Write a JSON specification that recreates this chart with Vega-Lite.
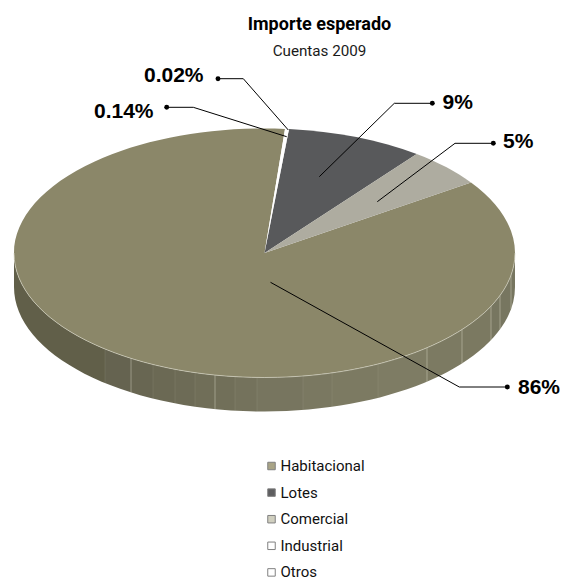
{
"$schema":"https://vega.github.io/schema/vega-lite/v6.json",
"width":567,"height":578,"padding":0,"autosize":{"type":"none"},"background":"white",
"config":{"view":{"stroke":null}},
"title":{"text":"Importe esperado","subtitle":"Cuentas 2009","anchor":"middle","frame":"group","dx":36,"offset":-59,
"font":"Roboto","fontSize":18,"fontWeight":"bold","color":"#000000",
"subtitleFont":"Roboto","subtitleFontSize":15.2,"subtitleColor":"#1a1a1a","subtitlePadding":10},
"datasets":{
"slices":[{"category":"Habitacional","value":86},{"category":"Lotes","value":9},{"category":"Comercial","value":5},{"category":"Industrial","value":0.14},{"category":"Otros","value":0.02}],
"leaders":[
{"label":"0.02%","step":1,"px":218,"py":78.7},{"label":"0.02%","step":2,"px":243.3,"py":78.7},{"label":"0.02%","step":3,"px":288.3,"py":130},
{"label":"0.14%","step":1,"px":166.7,"py":107.3},{"label":"0.14%","step":2,"px":193.3,"py":107.3},{"label":"0.14%","step":3,"px":286.7,"py":136.7},
{"label":"9%","step":1,"px":432.3,"py":103.3},{"label":"9%","step":2,"px":394.3,"py":103.3},{"label":"9%","step":3,"px":319.3,"py":176.7},
{"label":"5%","step":1,"px":493.3,"py":143.3},{"label":"5%","step":2,"px":455,"py":143.3},{"label":"5%","step":3,"px":377.3,"py":201.7},
{"label":"86%","step":1,"px":507.3,"py":387},{"label":"86%","step":2,"px":459.3,"py":387},{"label":"86%","step":3,"px":270.5,"py":282.3}],
"labels":[{"label":"0.02%","lx":144,"ly":76},{"label":"0.14%","lx":94,"ly":111.5},{"label":"9%","lx":442.5,"ly":103},{"label":"5%","lx":503,"ly":142},{"label":"86%","lx":518,"ly":388}]
},
"layer":[
{"data":{"values":[{"part":"wall"}]},
 "mark":{"type":"point","filled":true,"size":4,"strokeWidth":0,"opacity":1,
 "shape":"M -269.5 -36 A 250.5 124.5 0 0 0 -19 88.5 A 250.5 124.5 0 0 0 231.5 -36 L 231.5 -2 A 250.5 124.5 0 0 1 -19 122.5 A 250.5 124.5 0 0 1 -269.5 -2 Z",
 "fill":{"gradient":"linear","x1":0,"y1":0,"x2":1,"y2":0,"stops":[
 {"offset":0,"color":"#615f49"},{"offset":0.1816,"color":"#615f49"},{"offset":0.1816,"color":"#656350"},{"offset":0.2335,"color":"#656350"},{"offset":0.2335,"color":"#686652"},{"offset":0.2774,"color":"#686652"},{"offset":0.2774,"color":"#6b6954"},{"offset":0.3214,"color":"#6b6954"},{"offset":0.3214,"color":"#6d6b56"},{"offset":0.3613,"color":"#6d6b56"},{"offset":0.3613,"color":"#706e58"},{"offset":0.4012,"color":"#706e58"},{"offset":0.4012,"color":"#716f59"},{"offset":0.4411,"color":"#716f59"},{"offset":0.4411,"color":"#74725c"},{"offset":0.485,"color":"#74725c"},{"offset":0.485,"color":"#77755f"},{"offset":0.5768,"color":"#77755f"},{"offset":0.5768,"color":"#7a7861"},{"offset":0.6347,"color":"#7a7861"},{"offset":0.6347,"color":"#7c7a62"},{"offset":0.7265,"color":"#7c7a62"},{"offset":0.7265,"color":"#7e7c64"},{"offset":0.8244,"color":"#7e7c64"},{"offset":0.8244,"color":"#7c7a62"},{"offset":0.8942,"color":"#7c7a62"},{"offset":0.8942,"color":"#7b7961"},{"offset":0.9521,"color":"#7b7961"},{"offset":0.9521,"color":"#777660"},{"offset":1,"color":"#777660"}]}}},
{"data":{"values":[{"part":"facet edges faint"}]},
 "mark":{"type":"point","filled":false,"size":4,"strokeWidth":0.8,"stroke":"#c9c8b4","opacity":0.15,
 "shape":"M -178.5 60 L -178.5 94 M -130.5 75.5 L -130.5 109.5 M -108.5 80.3 L -108.5 114.3 M -88.5 83.6 L -88.5 117.6 M -48.5 87.6 L -48.5 121.6 M -26.5 88.45 L -26.5 122.45 M 19.5 87 L 19.5 121 M 48.5 83.9 L 48.5 117.9 M 94.5 75 L 94.5 109"}},
{"data":{"values":[{"part":"facet edges bright"}]},
 "mark":{"type":"point","filled":false,"size":4,"strokeWidth":0.8,"stroke":"#d4d3c0","opacity":0.6,
 "shape":"M -152.5 69.35 L -152.5 103.35 M -68.5 86.05 L -68.5 120.05 M 143.5 58.75 L 143.5 92.75 M 178.5 40.6 L 178.5 74.6 M 207.5 17.2 L 207.5 51.2 M 216.5 6.4 L 216.5 40.4 M 227.5 -13.8 L 227.5 20.2"}},
{"data":{"name":"slices"},"transform":[{"filter":"datum.category == 'Habitacional'"}],
 "mark":{"type":"point","filled":true,"size":4,"strokeWidth":0,"opacity":1,"fill":"#8b8769",
 "shape":"M -19 -36 L 187.5 -106.5 A 250.5 124.5 0 0 1 231.5 -36 A 250.5 124.5 0 0 1 -19 88.5 A 250.5 124.5 0 0 1 -269.5 -36 A 250.5 124.5 0 0 1 1.5 -160.08 Z"}},
{"data":{"name":"slices"},"transform":[{"filter":"datum.category == 'Lotes'"}],
 "mark":{"type":"point","filled":true,"size":4,"strokeWidth":0,"opacity":1,"fill":"#58595b",
 "shape":"M -19 -36 L 5.5 -159.9 A 250.5 124.5 0 0 1 133.2 -134.88 Z"}},
{"data":{"name":"slices"},"transform":[{"filter":"datum.category == 'Comercial'"}],
 "mark":{"type":"point","filled":true,"size":4,"strokeWidth":0,"opacity":1,"fill":"#aeaca0",
 "shape":"M -19 -36 L 133.2 -134.88 A 250.5 124.5 0 0 1 187.5 -106.5 Z"}},
{"data":{"name":"slices"},"transform":[{"filter":"datum.category == 'Industrial'"}],
 "mark":{"type":"point","filled":true,"size":4,"strokeWidth":0,"opacity":1,"fill":"#ffffff",
 "shape":"M -19 -36 L 1.5 -160.08 L 5 -160 Z"}},
{"data":{"name":"slices"},"transform":[{"filter":"datum.category == 'Otros'"}],
 "mark":{"type":"point","filled":true,"size":4,"strokeWidth":0,"opacity":1,"fill":"#ffffff",
 "shape":"M -19 -36 L 5 -160 L 5.5 -159.9 Z"}},
{"data":{"name":"slices"},
 "mark":{"type":"point","filled":true,"size":0,"strokeWidth":0},
 "encoding":{
  "color":{"field":"category","type":"nominal",
   "scale":{"domain":["Habitacional","Lotes","Comercial","Industrial","Otros"],"range":["#a9a486","#5d5d5f","#d0cfbf","#ffffff","#ffffff"]},
   "legend":{"title":null,"orient":"none","legendX":264,"legendY":458.5,"columns":1,"symbolType":"square","symbolSize":56,
     "labelFont":"Roboto","labelFontSize":15,"labelColor":"#111111","rowPadding":10.6,"labelOffset":1.5,"symbolOpacity":1,"symbolStrokeWidth":1,"symbolStrokeColor":"#808080"}}}},
{"data":{"values":[{"part":"rim"}]},
 "mark":{"type":"point","filled":false,"size":4,"strokeWidth":0.8,"stroke":"#d8d7c6","opacity":0.8,
 "shape":"M -269.5 -36 A 250.5 124.5 0 0 0 -19 88.5 A 250.5 124.5 0 0 0 231.5 -36"}},
{"data":{"name":"leaders"},
 "mark":{"type":"line","color":"#000000","strokeWidth":1,"interpolate":"linear"},
 "encoding":{
  "x":{"field":"px","type":"quantitative","axis":null,"scale":{"domain":[0,567],"nice":false,"zero":false}},
  "y":{"field":"py","type":"quantitative","axis":null,"scale":{"domain":[578,0],"nice":false,"zero":false}},
  "detail":{"field":"label"},
  "order":{"field":"step"}}},
{"data":{"name":"leaders"},
 "transform":[{"filter":"datum.step == 1"}],
 "mark":{"type":"point","filled":true,"color":"#000000","size":24,"opacity":1},
 "encoding":{
  "x":{"field":"px","type":"quantitative","axis":null,"scale":{"domain":[0,567],"nice":false,"zero":false}},
  "y":{"field":"py","type":"quantitative","axis":null,"scale":{"domain":[578,0],"nice":false,"zero":false}}}},
{"data":{"name":"labels"},
 "mark":{"type":"text","align":"left","baseline":"middle","font":"Liberation Sans","fontWeight":"bold","fontSize":21,"color":"#000000"},
 "encoding":{
  "x":{"field":"lx","type":"quantitative","axis":null,"scale":{"domain":[0,567],"nice":false,"zero":false}},
  "y":{"field":"ly","type":"quantitative","axis":null,"scale":{"domain":[578,0],"nice":false,"zero":false}},
  "text":{"field":"label"}}}
]}
